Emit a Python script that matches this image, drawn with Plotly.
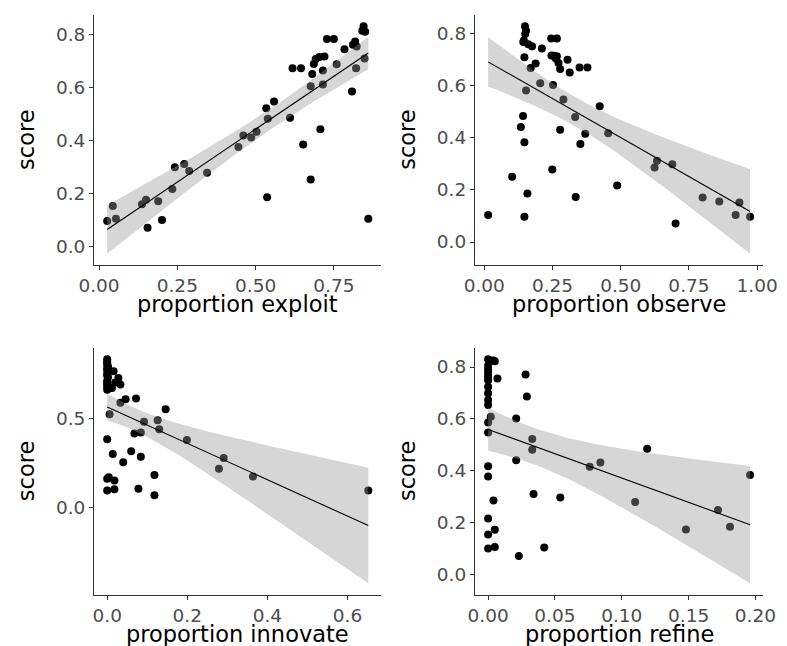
import numpy as np
import plotly.graph_objects as go

# ---------------- data ----------------
exploit_x = [0.026,0.044,0.054,0.137,0.150,0.155,0.189,0.201,0.234,0.242,0.272,0.288,0.345,0.445,0.461,0.486,0.503,0.534,0.539,0.559,0.537,0.610,0.618,0.645,0.652,0.676,0.676,0.681,0.686,0.692,0.704,0.720,0.715,0.715,0.707,0.728,0.750,0.759,0.784,0.808,0.811,0.818,0.821,0.823,0.841,0.845,0.850,0.848,0.860]
exploit_y = [0.095,0.152,0.104,0.159,0.176,0.070,0.170,0.099,0.216,0.299,0.311,0.285,0.278,0.375,0.419,0.411,0.433,0.522,0.482,0.548,0.185,0.486,0.673,0.673,0.385,0.605,0.252,0.652,0.690,0.708,0.716,0.718,0.665,0.612,0.443,0.784,0.784,0.689,0.745,0.585,0.762,0.775,0.673,0.756,0.815,0.832,0.812,0.710,0.104]

observe_x = [0.014,0.102,0.147,0.147,0.134,0.142,0.158,0.147,0.143,0.149,0.153,0.161,0.175,0.211,0.170,0.188,0.153,0.205,0.245,0.266,0.246,0.266,0.272,0.278,0.305,0.313,0.252,0.290,0.249,0.278,0.333,0.349,0.378,0.370,0.352,0.335,0.423,0.454,0.487,0.624,0.633,0.689,0.701,0.800,0.861,0.935,0.921,0.974,0.150,0.145,0.255,0.262]
observe_y = [0.104,0.251,0.097,0.383,0.442,0.484,0.186,0.710,0.769,0.829,0.812,0.760,0.753,0.744,0.669,0.686,0.582,0.610,0.782,0.782,0.717,0.714,0.688,0.665,0.701,0.652,0.604,0.548,0.279,0.432,0.481,0.671,0.671,0.416,0.377,0.173,0.522,0.418,0.217,0.286,0.312,0.299,0.071,0.171,0.156,0.152,0.104,0.097,0.800,0.775,0.716,0.705]

innovate_x = [0.000,0.000,0.002,0.000,0.000,0.002,0.000,0.000,0.000,0.000,0.016,0.028,0.033,0.012,0.020,0.033,0.046,0.072,0.006,0.146,0.092,0.126,0.130,0.068,0.084,0.000,0.014,0.040,0.060,0.084,0.000,0.018,0.004,0.000,0.018,0.078,0.118,0.118,0.199,0.279,0.291,0.364,0.652,0.000,0.000,0.000,0.000,0.004,0.000]
innovate_y = [0.831,0.810,0.790,0.770,0.750,0.730,0.710,0.690,0.675,0.660,0.763,0.726,0.689,0.670,0.700,0.587,0.606,0.611,0.522,0.550,0.481,0.489,0.439,0.415,0.420,0.383,0.300,0.254,0.315,0.285,0.161,0.152,0.170,0.096,0.102,0.106,0.183,0.069,0.378,0.217,0.278,0.174,0.096,0.820,0.780,0.740,0.700,0.670,0.800]

refine_x = [0.002,0.004,0.005,0.000,0.000,0.000,0.000,0.000,0.000,0.000,0.000,0.007,0.028,0.029,0.002,0.000,0.000,0.021,0.033,0.033,0.021,0.000,0.000,0.004,0.034,0.054,0.000,0.000,0.005,0.000,0.005,0.023,0.042,0.076,0.084,0.119,0.110,0.148,0.172,0.181,0.196,0.000,0.000,0.000]
refine_y = [0.825,0.825,0.822,0.806,0.781,0.749,0.724,0.699,0.673,0.654,0.760,0.756,0.771,0.686,0.608,0.586,0.548,0.602,0.523,0.481,0.441,0.418,0.378,0.286,0.311,0.298,0.217,0.155,0.173,0.101,0.107,0.072,0.105,0.416,0.432,0.485,0.280,0.174,0.249,0.185,0.384,0.830,0.790,0.770]

x_titles = ["proportion exploit", "proportion observe", "proportion innovate", "proportion refine"]
y_title = "score"

x_tickvals = [[0, 0.25, 0.5, 0.75], [0, 0.25, 0.5, 0.75, 1.0], [0, 0.2, 0.4, 0.6], [0, 0.05, 0.10, 0.15, 0.20]]
x_ticktext = [["0.00", "0.25", "0.50", "0.75"], ["0.00", "0.25", "0.50", "0.75", "1.00"],
              ["0.0", "0.2", "0.4", "0.6"], ["0.00", "0.05", "0.10", "0.15", "0.20"]]
y_tickvals = [[0, 0.2, 0.4, 0.6, 0.8], [0, 0.2, 0.4, 0.6, 0.8], [0, 0.5], [0, 0.2, 0.4, 0.6, 0.8]]
y_ticktext = [["0.0", "0.2", "0.4", "0.6", "0.8"], ["0.0", "0.2", "0.4", "0.6", "0.8"],
              ["0.0", "0.5"], ["0.0", "0.2", "0.4", "0.6", "0.8"]]

panels = [(exploit_x, exploit_y), (observe_x, observe_y), (innovate_x, innovate_y), (refine_x, refine_y)]

# ---------------- layout geometry ----------------
W, H = 787, 646
col_px = [(73, 372), (469.5, 769.5)]
row_px = [(7, 257), (340, 586.5)]

FONT = "DejaVu Sans"
TICK_FONT = dict(family=FONT, size=18.5, color="#4d4d4d")
TITLE_FONT = dict(family=FONT, size=22.5, color="#000000")


def t_quantile(df):
    z = 1.959964
    return z + (z**3 + z) / (4 * df) + (5 * z**5 + 16 * z**3 + 3 * z) / (96 * df**2)


def fit(x, y):
    x = np.asarray(x, float)
    y = np.asarray(y, float)
    n = len(x)
    b, a = np.polyfit(x, y, 1)
    resid = y - (a + b * x)
    s = np.sqrt(np.sum(resid**2) / (n - 2))
    xbar = x.mean()
    sxx = np.sum((x - xbar) ** 2)
    xs = np.linspace(x.min(), x.max(), 80)
    yh = a + b * xs
    se = s * np.sqrt(1.0 / n + (xs - xbar) ** 2 / sxx)
    t = t_quantile(n - 2)
    return xs, yh, yh - t * se, yh + t * se


fig = go.Figure()
layout = dict(width=W, height=H, margin=dict(l=0, r=0, t=0, b=0),
              paper_bgcolor="white", plot_bgcolor="white", showlegend=False,
              font=dict(family=FONT))
annotations = []

for i, (px, py) in enumerate(panels):
    r, c = divmod(i, 2)
    sfx = "" if i == 0 else str(i + 1)
    xa, ya = "x" + sfx, "y" + sfx
    xs, yh, lo, hi = fit(px, py)

    fig.add_trace(go.Scatter(x=px, y=py, mode="markers", xaxis=xa, yaxis=ya,
                             marker=dict(color="black", size=8, line=dict(width=0)),
                             hoverinfo="x+y"))
    fig.add_trace(go.Scatter(x=np.concatenate([xs, xs[::-1]]), y=np.concatenate([hi, lo[::-1]]),
                             mode="lines", fill="toself", fillcolor="rgba(153,153,153,0.4)",
                             line=dict(width=0), xaxis=xa, yaxis=ya, hoverinfo="skip"))
    fig.add_trace(go.Scatter(x=xs, y=yh, mode="lines", line=dict(color="black", width=1.1),
                             xaxis=xa, yaxis=ya, hoverinfo="skip"))

    xmin, xmax = min(px), max(px)
    ymin = min(min(py), lo.min())
    ymax = max(max(py), hi.max())
    dx = 0.05 * (xmax - xmin)
    dy = 0.05 * (ymax - ymin)

    x0p, x1p = col_px[c]
    y0p, y1p = row_px[r]
    common = dict(showline=True, linecolor="#333333", linewidth=1.1, ticks="outside", ticklen=4,
                  tickwidth=1, tickcolor="#333333", showgrid=False, zeroline=False,
                  tickfont=TICK_FONT)
    layout["xaxis" + sfx] = dict(domain=[x0p / W, x1p / W], anchor=ya,
                                 range=[xmin - dx, xmax + dx], tickmode="array",
                                 tickvals=x_tickvals[i], ticktext=x_ticktext[i], **common)
    layout["yaxis" + sfx] = dict(domain=[1 - y1p / H, 1 - y0p / H], anchor=xa,
                                 range=[ymin - dy, ymax + dy], tickmode="array",
                                 tickvals=y_tickvals[i], ticktext=y_ticktext[i], **common)

    annotations.append(dict(text=x_titles[i], xref="paper", yref="paper",
                            x=(x0p + x1p) / 2 / W, y=1 - (y1p + 39) / H,
                            showarrow=False, font=TITLE_FONT, xanchor="center", yanchor="middle"))
    annotations.append(dict(text=y_title, xref="paper", yref="paper", textangle=-90,
                            x=(x0p - 71) / W, y=1 - (y0p + y1p) / 2 / H,
                            showarrow=False, font=TITLE_FONT, xanchor="center", yanchor="middle"))

layout["annotations"] = annotations
fig.update_layout(**layout)
fig.write_html("out.html")
